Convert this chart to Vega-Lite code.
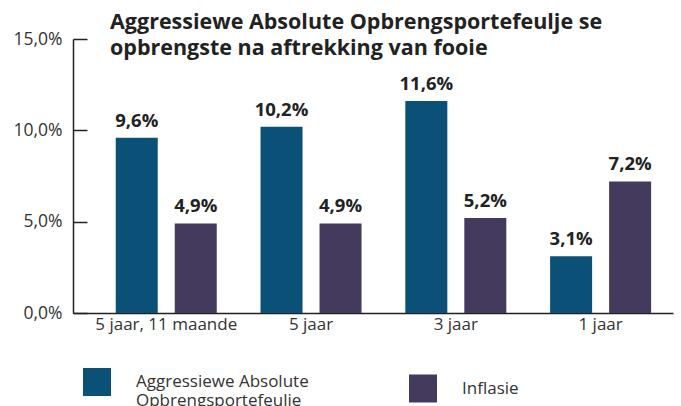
{
  "$schema": "https://vega.github.io/schema/vega-lite/v6.json",
  "width": 600,
  "height": 274,
  "autosize": {"type": "none"},
  "padding": {"left": 73, "top": 39, "right": 8, "bottom": 93},
  "background": "white",
  "title": {
    "text": ["Aggressiewe Absolute Opbrengsportefeulje se", "opbrengste na aftrekking van fooie"],
    "anchor": "start",
    "frame": "group",
    "dx": 37,
    "fontSize": 21.5,
    "font": "Open Sans",
    "fontWeight": "bold",
    "color": "#222222",
    "lineHeight": 26,
    "baseline": "top",
    "offset": 0,
    "dy": 29
  },
  "data": {
    "values": [
      {"period": "5 jaar, 11 maande", "series": "Aggressiewe Absolute Opbrengsportefeulje", "value": 9.6},
      {"period": "5 jaar, 11 maande", "series": "Inflasie", "value": 4.9},
      {"period": "5 jaar", "series": "Aggressiewe Absolute Opbrengsportefeulje", "value": 10.2},
      {"period": "5 jaar", "series": "Inflasie", "value": 4.9},
      {"period": "3 jaar", "series": "Aggressiewe Absolute Opbrengsportefeulje", "value": 11.6},
      {"period": "3 jaar", "series": "Inflasie", "value": 5.2},
      {"period": "1 jaar", "series": "Aggressiewe Absolute Opbrengsportefeulje", "value": 3.1},
      {"period": "1 jaar", "series": "Inflasie", "value": 7.2}
    ]
  },
  "transform": [
    {"calculate": "replace(format(datum.value, '.1f'), '.', ',') + '%'", "as": "label"}
  ],
  "encoding": {
    "x": {
      "field": "period",
      "type": "nominal",
      "sort": ["5 jaar, 11 maande", "5 jaar", "3 jaar", "1 jaar"],
      "scale": {"paddingInner": 0, "paddingOuter": 0.072, "align": 1},
      "axis": {
        "title": null,
        "labelAngle": 0,
        "ticks": false,
        "domainColor": "#222222",
        "domainWidth": 1.5,
        "labelFontSize": 17,
        "labelFont": "Open Sans",
        "labelColor": "#333333",
        "labelPadding": 3
      }
    },
    "xOffset": {
      "field": "series",
      "sort": ["Aggressiewe Absolute Opbrengsportefeulje", "Inflasie"],
      "scale": {"paddingInner": 0.288, "paddingOuter": 0.371}
    },
    "y": {
      "field": "value",
      "type": "quantitative",
      "scale": {"domain": [0, 15]},
      "axis": {
        "title": null,
        "values": [0, 5, 10, 15],
        "grid": true,
        "gridColor": "#222222",
        "gridWidth": 1.5,
        "gridDash": [14, 590],
        "gridOpacity": 1,
        "ticks": false,
        "domainColor": "#222222",
        "domainWidth": 1.5,
        "labelExpr": "replace(format(datum.value, '.1f'), '.', ',') + '%'",
        "labelFontSize": 17.5,
        "labelFont": "Open Sans",
        "labelColor": "#333333",
        "labelPadding": 11
      }
    },
    "color": {
      "field": "series",
      "type": "nominal",
      "sort": ["Aggressiewe Absolute Opbrengsportefeulje", "Inflasie"],
      "scale": {"range": ["#0b5077", "#433a5d"]},
      "legend": {
        "title": null,
        "orient": "none",
        "legendX": 10,
        "legendY": 329,
        "direction": "horizontal",
        "padding": 0,
        "symbolType": "square",
        "symbolSize": 784,
        "symbolStrokeWidth": 0,
        "symbolOpacity": 1,
        "labelFontSize": 17,
        "labelFont": "Open Sans",
        "labelColor": "#333333",
        "labelOffset": 25,
        "labelLimit": 300,
        "columnPadding": 100,
        "labelExpr": "datum.label == 'Aggressiewe Absolute Opbrengsportefeulje' ? ['Aggressiewe Absolute', 'Opbrengsportefeulje'] : datum.label"
      }
    }
  },
  "layer": [
    {"mark": {"type": "bar"}},
    {
      "mark": {"type": "text", "baseline": "bottom", "dy": -7, "fontSize": 18.5, "fontWeight": "bold", "font": "Open Sans"},
      "encoding": {
        "text": {"field": "label"},
        "color": {"value": "#222222"}
      }
    }
  ],
  "config": {"view": {"stroke": null}}
}
